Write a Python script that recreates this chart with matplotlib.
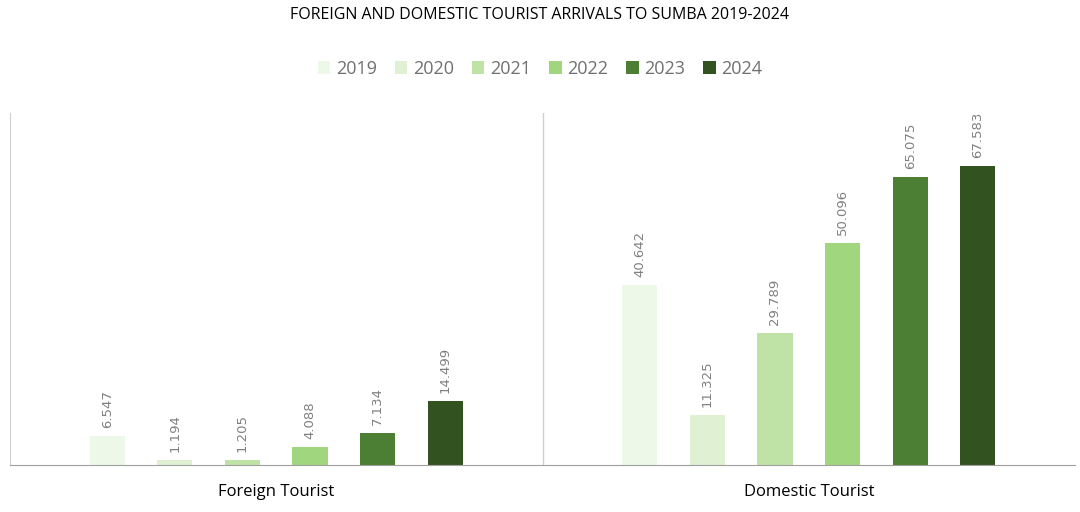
import matplotlib.pyplot as plt
import numpy as np

plt.rcParams['font.family'] = ['Open Sans', 'DejaVu Sans']

groups = ['Foreign Tourist', 'Domestic Tourist']
years = ['2019', '2020', '2021', '2022', '2023', '2024']
foreign = [6.547, 1.194, 1.205, 4.088, 7.134, 14.499]
domestic = [40.642, 11.325, 29.789, 50.096, 65.075, 67.583]
labels_foreign = ['6.547', '1.194', '1.205', '4.088', '7.134', '14.499']
labels_domestic = ['40.642', '11.325', '29.789', '50.096', '65.075', '67.583']
colors = ['#eef8e8', '#dff0d3', '#bfe2a6', '#a0d77e', '#4c7e33', '#32521f']

fig = plt.figure(figsize=(10.8, 5.12), dpi=100)
ax = fig.add_axes([10/1080, 47/512, 1065/1080, 352/512])

x = np.arange(len(groups))
step = 0.127
width = 0.066
for i, yr in enumerate(years):
    vals = [foreign[i], domestic[i]]
    labs = [labels_foreign[i], labels_domestic[i]]
    pos = x + (i - 2.5) * step
    ax.bar(pos, vals, width, color=colors[i], label=yr)
    for p, v, l in zip(pos, vals, labs):
        ax.text(p, v + 1.8, l, rotation=90, ha='center', va='bottom',
                fontsize=9.5, color='#808080', family='DejaVu Sans')

ax.set_xlim(-0.5, 1.5)
ax.set_ylim(0, 79.5)
ax.axvline(0.5, color='#d0d0d0', lw=1)
ax.set_yticks([])
ax.set_xticks(x)
ax.set_xticklabels(groups, fontsize=12)
ax.tick_params(axis='x', length=0, pad=14)
for s in ['top', 'right']:
    ax.spines[s].set_visible(False)
ax.spines['left'].set_color('#d0d0d0')
ax.spines['bottom'].set_color('#a0a0a0')

fig.text(0.5, 0.97, 'FOREIGN AND DOMESTIC TOURIST ARRIVALS TO SUMBA 2019-2024',
         ha='center', va='center', fontsize=11.5)
leg = fig.legend(loc='center', bbox_to_anchor=(0.5, 0.865), ncol=6, frameon=False,
                 fontsize=13, handlelength=0.7, handleheight=0.7, columnspacing=1.0,
                 handletextpad=0.3)
for t in leg.get_texts():
    t.set_color('#707070')

fig.savefig('out.png', dpi=100)
